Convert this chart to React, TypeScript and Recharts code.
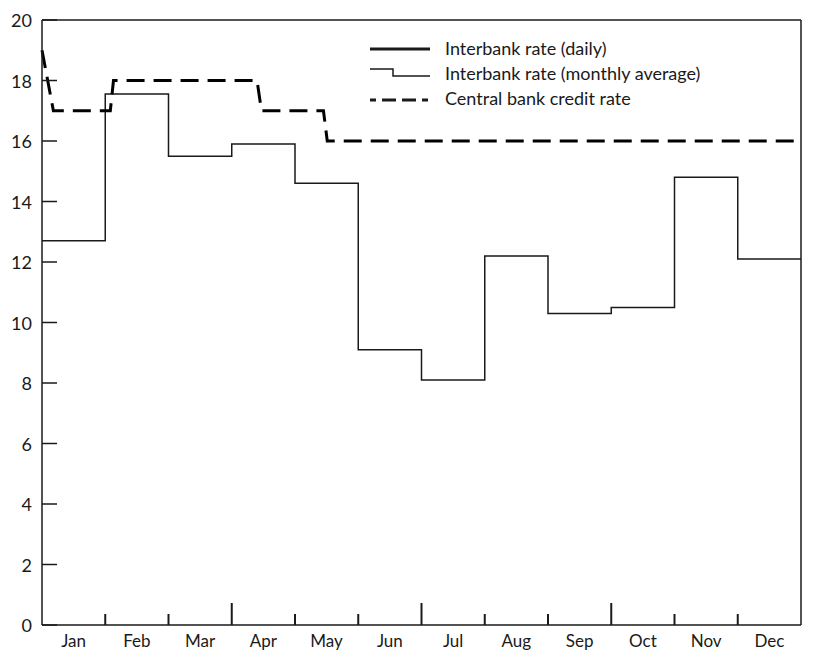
import React from 'react';
import { ComposedChart, Line, XAxis, YAxis, ReferenceLine } from 'recharts';

const months = ['Jan', 'Feb', 'Mar', 'Apr', 'May', 'Jun', 'Jul', 'Aug', 'Sep', 'Oct', 'Nov', 'Dec'];
// monthly average interbank rate, one value per month (last repeated at year end for the step)
const monthlyAvg = [12.7, 17.55, 15.5, 15.9, 14.6, 9.1, 8.1, 12.2, 10.3, 10.5, 14.8, 12.1];
// central bank credit rate: position in months from start of year, rate
const cbX = [0, 0.18, 1.08, 1.13, 3.4, 3.47, 4.45, 4.51, 12];
const cbY = [19, 17, 17, 18, 18, 17, 17, 16, 16];
const yTicks = [0, 2, 4, 6, 8, 10, 12, 14, 16, 18, 20];
const legendLabels = ['Interbank rate (daily)', 'Interbank rate (monthly average)', 'Central bank credit rate'];

const avgData = [...monthlyAvg.map((v, i) => ({ x: i, v })), { x: 12, v: monthlyAvg[11] }];
const cbData = cbX.map((x, i) => ({ x, v: cbY[i] }));

const xTicks: number[] = [];
for (let i = 0; i < 12; i++) {
  xTicks.push(i + 0.5);
  if (i > 0) xTicks.push(i);
}
xTicks.sort((a, b) => a - b);

const FONT = 'Lato, "Open Sans", sans-serif';
const INK = '#1a1a1a';
const FS = 18;

const LeftTick = (p: any) => (
  <g>
    <line x1={p.x} y1={p.y} x2={p.x + 15} y2={p.y} stroke={INK} strokeWidth={1.5} />
    <text x={p.x - 10} y={p.y} textAnchor="end" dominantBaseline="central" fontSize={FS} fontFamily={FONT} fill={INK}>
      {p.payload.value}
    </text>
  </g>
);
const RightTick = (p: any) => (
  <g>
    <line x1={p.x - 15} y1={p.y} x2={p.x} y2={p.y} stroke={INK} strokeWidth={1.5} />
    <text x={p.x + 13} y={p.y} textAnchor="start" dominantBaseline="central" fontSize={FS} fontFamily={FONT} fill={INK}>
      {p.payload.value}
    </text>
  </g>
);
const BottomTick = (p: any) => {
  const v = p.payload.value;
  if (Number.isInteger(v)) {
    const len = v % 3 === 0 ? 22 : 11;
    return <line x1={p.x} y1={p.y} x2={p.x} y2={p.y - len} stroke={INK} strokeWidth={2} />;
  }
  return (
    <text x={p.x} y={p.y + 15} textAnchor="middle" dominantBaseline="central" fontSize={FS - 1} fontFamily={FONT} fill={INK}>
      {months[Math.floor(v)]}
    </text>
  );
};

const LegendOverlay = () => (
  <svg width={400} height={100} style={{ position: 'absolute', left: 370, top: 29, display: 'block' }}>
    <g fontFamily={FONT} fontSize={18} fill={INK}>
      <line x1={0} y1={20} x2={60} y2={20} stroke={INK} strokeWidth={3} />
      <text x={75} y={19} dominantBaseline="central">{legendLabels[0]}</text>
      <path d="M0,40 H23 V47 H60" fill="none" stroke={INK} strokeWidth={1.5} />
      <text x={75} y={44} dominantBaseline="central">{legendLabels[1]}</text>
      <line x1={0} y1={71} x2={60} y2={71} stroke={INK} strokeWidth={3} strokeDasharray="6 6 14 6 14 6" />
      <text x={75} y={69} dominantBaseline="central">{legendLabels[2]}</text>
    </g>
  </svg>
);

export default function App() {
  return (
    <div style={{ position: 'absolute', left: 0, top: 0, width: 836, height: 651, background: '#fff' }}>
      <ComposedChart width={836} height={651} margin={{ top: 20, right: 0, bottom: 0, left: 0 }}>
        <XAxis
          dataKey="x"
          type="number"
          domain={[0, 12]}
          ticks={xTicks}
          interval={0}
          allowDuplicatedCategory={false}
          tickSize={0}
          tickMargin={0}
          height={26}
          tick={<BottomTick />}
          axisLine={{ stroke: INK, strokeWidth: 1.5 }}
          tickLine={false}
        />
        <YAxis
          yAxisId="l"
          orientation="left"
          domain={[0, 20]}
          ticks={yTicks}
          interval={0}
          width={42}
          tickSize={0}
          tickMargin={0}
          tick={<LeftTick />}
          tickLine={false}
          axisLine={{ stroke: INK, strokeWidth: 1.5 }}
        />
        <YAxis
          yAxisId="r"
          orientation="right"
          domain={[0, 20]}
          ticks={yTicks}
          interval={0}
          width={35}
          tickSize={0}
          tickMargin={0}
          tick={<RightTick />}
          tickLine={false}
          axisLine={{ stroke: INK, strokeWidth: 1.5 }}
        />
        <ReferenceLine yAxisId="l" y={20} stroke={INK} strokeWidth={1.5} />
        <Line
          yAxisId="l"
          data={avgData}
          dataKey="v"
          type="stepAfter"
          stroke={INK}
          strokeWidth={1.5}
          dot={false}
          isAnimationActive={false}
        />
        <Line
          yAxisId="l"
          data={cbData}
          dataKey="v"
          type="linear"
          stroke="#000"
          strokeWidth={3}
          strokeDasharray="18 9"
          dot={false}
          isAnimationActive={false}
        />
      </ComposedChart>
      <LegendOverlay />
    </div>
  );
}
